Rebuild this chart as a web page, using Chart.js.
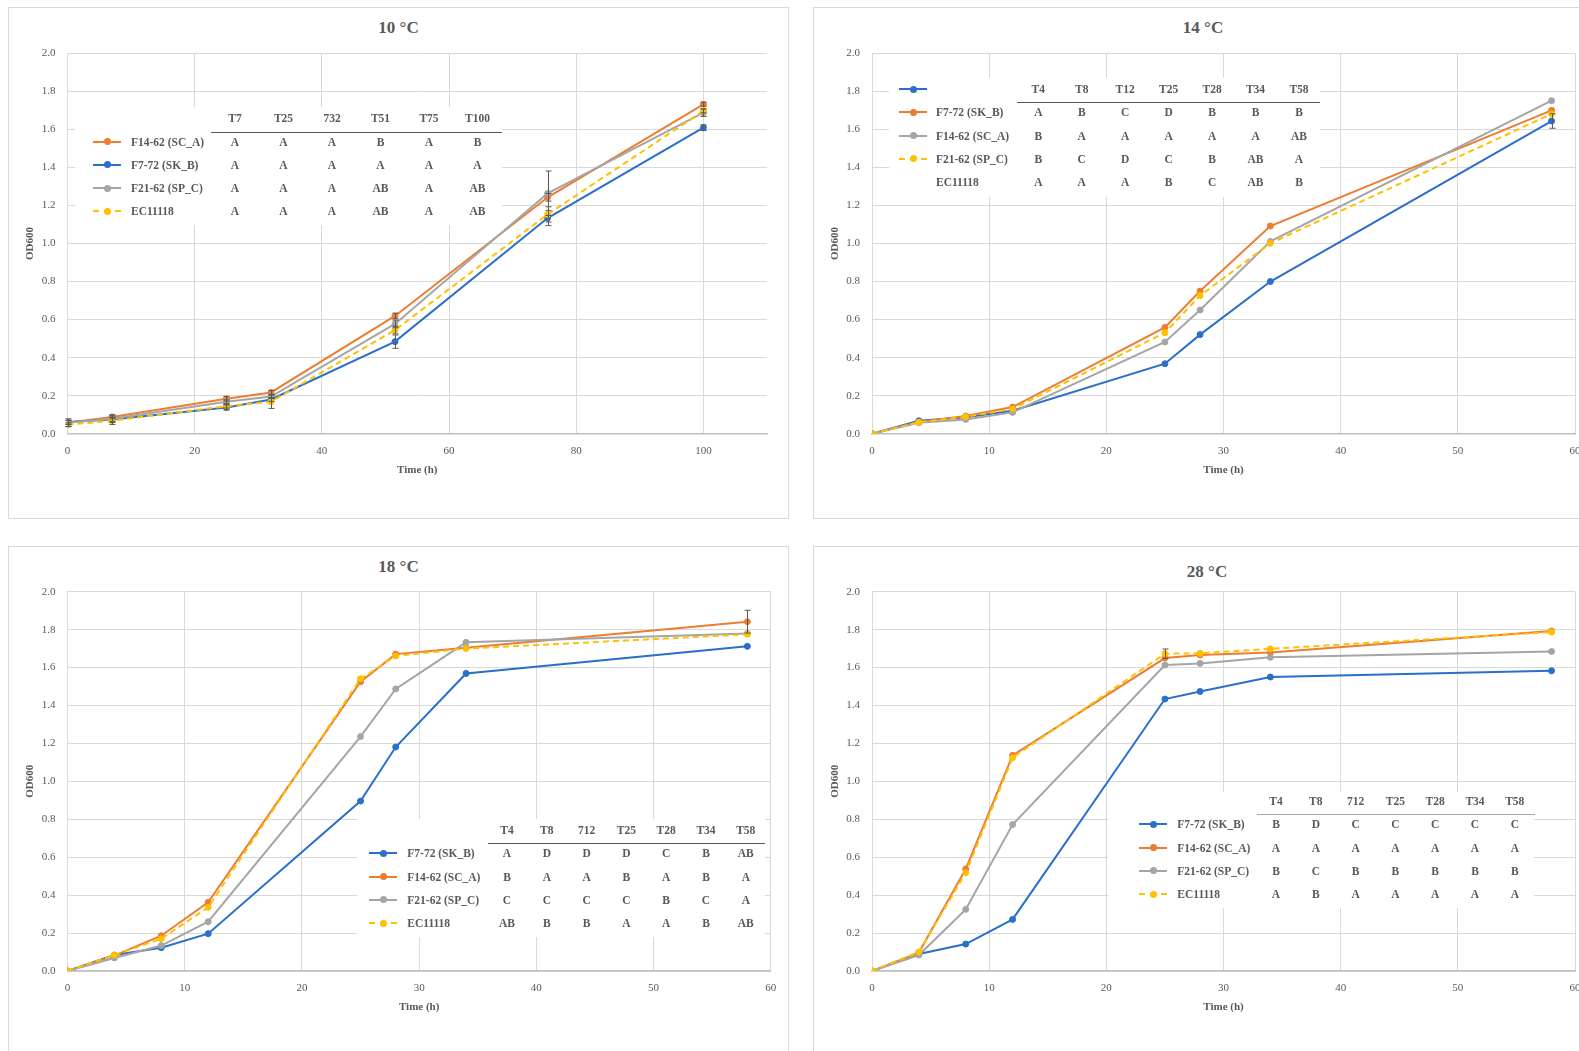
<!DOCTYPE html>
<html>
<head>
<meta charset="utf-8">
<title>Growth curves at 10, 14, 18 and 28 °C</title>
<script src="https://cdn.jsdelivr.net/npm/chart.js@4.4.1/dist/chart.umd.min.js"></script>
<style>
  html, body { margin: 0; padding: 0; background: #fff; overflow: hidden; width: 1579px; height: 1051px; position: relative; }
  .frame { position: absolute; border: 1px solid #d9d9d9; box-sizing: border-box; }
  canvas { position: absolute; }
  .tbl { position: absolute; background: #fff; }
  .cell { position: absolute; white-space: nowrap; font-family: "Liberation Serif", serif; font-weight: bold;
          font-size: 11.5px; color: #595959; line-height: 14px; height: 14px; }
  .ptitle { position: absolute; width: 200px; text-align: center; white-space: nowrap; font-family: "Liberation Serif", serif;
            font-weight: bold; font-size: 17px; line-height: 20px; height: 20px; color: #595959; }
  .rule { position: absolute; height: 0; }
  .swatch { position: absolute; height: 0; }
  .dot { position: absolute; width: 7px; height: 7px; border-radius: 50%; }
</style>
</head>
<body>
<script>
// ---- sampling times (h) ----
const time10 = [0, 7, 25, 32, 51.5, 75.5, 100];
const time14 = [0, 4, 8, 12, 25, 28, 34, 58];
const time18 = [0, 4, 8, 12, 25, 28, 34, 58];
const time28 = [0, 4, 8, 12, 25, 28, 34, 58];

// ---- OD600, 10 °C ----
const sc_a_10 = [0.058, 0.088, 0.184, 0.217, 0.619, 1.243, 1.732];
const sk_b_10 = [0.061, 0.075, 0.138, 0.180, 0.484, 1.134, 1.609];
const sp_c_10 = [0.058, 0.079, 0.168, 0.195, 0.577, 1.264, 1.688];
const ec_10   = [0.047, 0.068, 0.145, 0.168, 0.545, 1.153, 1.697];
const sc_a_10_sd = [0.010, 0.010, 0.012, 0.010, 0.015, 0.020, 0.010];
const sk_b_10_sd = [0.010, 0.010, 0.013, 0.010, 0.035, 0.040, 0.015];
const sp_c_10_sd = [0.020, 0.020, 0.010, 0.010, 0.020, 0.117, 0.020];
const ec_10_sd   = [0.010, 0.020, 0.010, 0.035, 0.020, 0.040, 0.010];

// ---- OD600, 14 °C ----
const sk_b_14 = [0, 0.068, 0.086, 0.121, 0.368, 0.521, 0.800, 1.644];
const sc_a_14 = [0, 0.061, 0.093, 0.140, 0.559, 0.750, 1.092, 1.700];
const sp_c_14 = [0, 0.058, 0.075, 0.112, 0.482, 0.650, 1.011, 1.751];
const ec_14   = [0, 0.060, 0.089, 0.130, 0.531, 0.726, 1.001, 1.681];
const sk_b_14_sd = [0, 0, 0, 0, 0, 0, 0, 0.038];

// ---- OD600, 18 °C ----
const sk_b_18 = [0, 0.084, 0.123, 0.197, 0.896, 1.181, 1.569, 1.712];
const sc_a_18 = [0, 0.081, 0.186, 0.362, 1.525, 1.671, 1.705, 1.842];
const sp_c_18 = [0, 0.069, 0.134, 0.260, 1.236, 1.487, 1.733, 1.780];
const ec_18   = [0, 0.084, 0.170, 0.336, 1.541, 1.661, 1.700, 1.775];
const sc_a_18_sd = [0, 0, 0, 0, 0, 0, 0, 0.060];

// ---- OD600, 28 °C ----
const sk_b_28 = [0, 0.090, 0.142, 0.272, 1.434, 1.474, 1.550, 1.583];
const sc_a_28 = [0, 0.097, 0.538, 1.137, 1.650, 1.666, 1.680, 1.793];
const sp_c_28 = [0, 0.084, 0.325, 0.772, 1.613, 1.622, 1.654, 1.685];
const ec_28   = [0, 0.100, 0.518, 1.125, 1.673, 1.675, 1.699, 1.787];
const ec_28_sd = [0, 0, 0, 0, 0.025, 0, 0, 0];

// ---- axis ticks ----
const yTicks = [0, 0.2, 0.4, 0.6, 0.8, 1.0, 1.2, 1.4, 1.6, 1.8, 2.0];
const xTicks10 = [0, 20, 40, 60, 80, 100];
const xTicks60 = [0, 10, 20, 30, 40, 50, 60];

// ---- significance letters ----
const head10 = ['T7', 'T25', '732', 'T51', 'T75', 'T100'];
const rows10 = ['F14-62 (SC_A)', 'F7-72 (SK_B)', 'F21-62 (SP_C)', 'EC11118'];
const letters10 = [
  ['A', 'A', 'A', 'B', 'A', 'B'],
  ['A', 'A', 'A', 'A', 'A', 'A'],
  ['A', 'A', 'A', 'AB', 'A', 'AB'],
  ['A', 'A', 'A', 'AB', 'A', 'AB']
];
const head14 = ['T4', 'T8', 'T12', 'T25', 'T28', 'T34', 'T58'];
const rows14 = ['F7-72 (SK_B)', 'F14-62 (SC_A)', 'F21-62 (SP_C)', 'EC11118'];
const letters14 = [
  ['A', 'B', 'C', 'D', 'B', 'B', 'B'],
  ['B', 'A', 'A', 'A', 'A', 'A', 'AB'],
  ['B', 'C', 'D', 'C', 'B', 'AB', 'A'],
  ['A', 'A', 'A', 'B', 'C', 'AB', 'B']
];
const head18 = ['T4', 'T8', '712', 'T25', 'T28', 'T34', 'T58'];
const rows18 = ['F7-72 (SK_B)', 'F14-62 (SC_A)', 'F21-62 (SP_C)', 'EC11118'];
const letters18 = [
  ['A', 'D', 'D', 'D', 'C', 'B', 'AB'],
  ['B', 'A', 'A', 'B', 'A', 'B', 'A'],
  ['C', 'C', 'C', 'C', 'B', 'C', 'A'],
  ['AB', 'B', 'B', 'A', 'A', 'B', 'AB']
];
const head28 = ['T4', 'T8', '712', 'T25', 'T28', 'T34', 'T58'];
const rows28 = ['F7-72 (SK_B)', 'F14-62 (SC_A)', 'F21-62 (SP_C)', 'EC11118'];
const letters28 = [
  ['B', 'D', 'C', 'C', 'C', 'C', 'C'],
  ['A', 'A', 'A', 'A', 'A', 'A', 'A'],
  ['B', 'C', 'B', 'B', 'B', 'B', 'B'],
  ['A', 'B', 'A', 'A', 'A', 'A', 'A']
];

// ---- series styling ----
const STRAIN = {
  sk_b: { label: 'F7-72 (SK_B)',  color: '#2a6fc9', dash: [] },
  sc_a: { label: 'F14-62 (SC_A)', color: '#ed7d31', dash: [] },
  sp_c: { label: 'F21-62 (SP_C)', color: '#a5a5a5', dash: [] },
  ec:   { label: 'EC11118',       color: '#ffc000', dash: [6, 4] }
};
const FONT = '"Liberation Serif", serif';
const TXT = '#595959';
const GRID = '#d9d9d9';

// Each panel: its frame, title centre, canvas box, plot-area edges inside the canvas,
// the series drawn (bottom to top) and the letter table laid over it.
const panels = [
  {
    title: '10 °C', titleAt: [398.5, 28.3], frame: [8, 7, 781, 512], canvas: [9, 7, 780, 511],
    plot: { l: 58.5, t: 46.3, r: 758, b: 426.7 }, yTitleX: 21.2, tickGap: 17, xTitleGap: 36,
    time: time10, xMax: 110, xTicks: xTicks10,
    series: [['sc_a', sc_a_10, sc_a_10_sd], ['sk_b', sk_b_10, sk_b_10_sd], ['sp_c', sp_c_10, sp_c_10_sd], ['ec', ec_10, ec_10_sd]],
    table: { head: head10, rows: rows10, letters: letters10, keys: ['sc_a', 'sk_b', 'sp_c', 'ec'], keyShift: 0,
      box: [75, 107, 502, 225], headY: 117.7, rowY: 141.7, step: 23.2, ruleY: 131.7, rule: [211, 502], ruleColor: '#595959',
      sw: [93, 121], labelX: 131, col0: 235, colStep: 48.5 }
  },
  {
    title: '14 °C', titleAt: [1203, 28.3], frame: [813, 7, 800, 512], canvas: [813, 7, 780, 511],
    plot: { l: 59, t: 46.3, r: 762, b: 426.7 }, yTitleX: 21.8, tickGap: 17, xTitleGap: 36,
    time: time14, xMax: 60, xTicks: xTicks60,
    series: [['sk_b', sk_b_14, sk_b_14_sd], ['sc_a', sc_a_14, null], ['sp_c', sp_c_14, null], ['ec', ec_14, null]],
    table: { head: head14, rows: rows14, letters: letters14, keys: ['sk_b', 'sc_a', 'sp_c', 'ec'], keyShift: -1,
      box: [889, 78, 1320, 197], headY: 89, rowY: 112.3, step: 23.3, ruleY: 102.3, rule: [1017, 1320], ruleColor: '#595959',
      sw: [899, 927], labelX: 936, col0: 1038.3, colStep: 43.45 }
  },
  {
    title: '18 °C', titleAt: [398.5, 566.7], frame: [8, 546, 781, 520], canvas: [9, 546, 780, 511],
    plot: { l: 58.5, t: 45.7, r: 761.8, b: 425 }, yTitleX: 21.2, tickGap: 16.7, xTitleGap: 36.5,
    time: time18, xMax: 60, xTicks: xTicks60,
    series: [['sk_b', sk_b_18, null], ['sc_a', sc_a_18, sc_a_18_sd], ['sp_c', sp_c_18, null], ['ec', ec_18, null]],
    table: { head: head18, rows: rows18, letters: letters18, keys: ['sk_b', 'sc_a', 'sp_c', 'ec'], keyShift: 0,
      box: [357, 819, 765, 937], headY: 830, rowY: 853.3, step: 23.3, ruleY: 843.3, rule: [487.5, 765], ruleColor: '#595959',
      sw: [369, 397], labelX: 407.3, col0: 507, colStep: 39.8 }
  },
  {
    title: '28 °C', titleAt: [1207, 571.7], frame: [813, 546, 800, 520], canvas: [813, 546, 788, 511],
    plot: { l: 59, t: 45.7, r: 762, b: 425 }, yTitleX: 21.8, tickGap: 16.7, xTitleGap: 36.5,
    time: time28, xMax: 60, xTicks: xTicks60,
    series: [['sk_b', sk_b_28, null], ['sc_a', sc_a_28, null], ['sp_c', sp_c_28, null], ['ec', ec_28, ec_28_sd]],
    table: { head: head28, rows: rows28, letters: letters28, keys: ['sk_b', 'sc_a', 'sp_c', 'ec'], keyShift: 0,
      box: [1108, 792, 1534, 908], headY: 801, rowY: 824.3, step: 23.3, ruleY: 814.3, rule: [1257, 1535], ruleColor: '#a6a6a6',
      sw: [1139, 1167], labelX: 1177.3, col0: 1276, colStep: 39.8 }
  }
];

// Vertical error bars (± SD) drawn through the chart's own scales.
const errorBars = {
  id: 'errorBars',
  afterDatasetsDraw(chart) {
    const { ctx, scales: { x, y } } = chart;
    ctx.save();
    ctx.strokeStyle = '#595959';
    ctx.lineWidth = 1;
    chart.data.datasets.forEach(ds => {
      if (!ds.sd) return;
      ds.data.forEach((p, j) => {
        const e = ds.sd[j];
        if (!e) return;
        const px = Math.round(x.getPixelForValue(p.x)) + 0.5;
        const top = y.getPixelForValue(p.y + e);
        const bot = y.getPixelForValue(p.y - e);
        ctx.beginPath();
        ctx.moveTo(px, top); ctx.lineTo(px, bot);
        ctx.moveTo(px - 3, top); ctx.lineTo(px + 3, top);
        ctx.moveTo(px - 3, bot); ctx.lineTo(px + 3, bot);
        ctx.stroke();
      });
    });
    ctx.restore();
  }
};

function addDiv(cls, css, text) {
  const d = document.createElement('div');
  d.className = cls;
  Object.assign(d.style, css);
  if (text !== undefined) d.textContent = text;
  document.body.appendChild(d);
  return d;
}

function drawSwatch(key, x0, x1, yc) {
  const s = STRAIN[key];
  addDiv('swatch', {
    left: x0 + 'px', top: (yc - 1) + 'px', width: (x1 - x0) + 'px',
    borderTop: '2px ' + (s.dash.length ? 'dashed ' : 'solid ') + s.color
  });
  addDiv('dot', { left: ((x0 + x1) / 2 - 3.5) + 'px', top: (yc - 3.5) + 'px', background: s.color });
}

function buildTable(t) {
  addDiv('tbl', { left: t.box[0] + 'px', top: t.box[1] + 'px', width: (t.box[2] - t.box[0]) + 'px', height: (t.box[3] - t.box[1]) + 'px' });
  const center = (x, y, txt) => addDiv('cell', { left: (x - 30) + 'px', top: (y - 7) + 'px', width: '60px', textAlign: 'center' }, txt);
  t.head.forEach((h, k) => center(t.col0 + k * t.colStep, t.headY, h));
  addDiv('rule', { left: t.rule[0] + 'px', top: t.ruleY + 'px', width: (t.rule[1] - t.rule[0]) + 'px', borderTop: '1.5px solid ' + t.ruleColor });
  t.rows.forEach((name, r) => {
    const yc = t.rowY + r * t.step;
    addDiv('cell', { left: t.labelX + 'px', top: (yc - 7) + 'px' }, name);
    t.letters[r].forEach((L, k) => center(t.col0 + k * t.colStep, yc, L));
  });
  t.keys.forEach((key, r) => drawSwatch(key, t.sw[0], t.sw[1], t.rowY + (r + t.keyShift) * t.step));
}

function buildPanel(p) {
  const [fx, fy, fw, fh] = p.frame;
  addDiv('frame', { left: fx + 'px', top: fy + 'px', width: fw + 'px', height: fh + 'px' });
  addDiv('ptitle', { left: (p.titleAt[0] - 100) + 'px', top: (p.titleAt[1] - 10) + 'px' }, p.title);
  const [cx, cy, cw, ch] = p.canvas;
  const cv = document.createElement('canvas');
  cv.width = cw; cv.height = ch;
  cv.style.left = cx + 'px'; cv.style.top = cy + 'px';
  cv.style.width = cw + 'px'; cv.style.height = ch + 'px';
  document.body.appendChild(cv);

  const n = p.series.length;
  const datasets = p.series.map(([key, vals, sd], i) => {
    const s = STRAIN[key];
    return {
      label: s.label,
      data: p.time.map((t, j) => ({ x: t, y: vals[j] })),
      sd: sd,
      borderColor: s.color,
      backgroundColor: s.color,
      pointBackgroundColor: s.color,
      pointBorderColor: s.color,
      borderWidth: 2,
      borderDash: s.dash,
      pointRadius: 3,
      pointBorderWidth: 1,
      tension: 0,
      order: n - i
    };
  });

  const tickLH = 11 * 1.2;
  const xAxisH = 44;
  new Chart(cv, {
    type: 'line',
    data: { datasets },
    plugins: [errorBars],
    options: {
      responsive: false,
      animation: false,
      devicePixelRatio: 1,
      layout: { padding: { left: 0, top: p.plot.t, right: cw - p.plot.r, bottom: ch - p.plot.b - xAxisH } },
      plugins: {
        legend: { display: false },
        tooltip: { enabled: false },
        title: { display: false }
      },
      scales: {
        x: {
          type: 'linear', min: 0, max: p.xMax,
          afterFit: s => { s.height = xAxisH; },
          afterBuildTicks: s => { s.ticks = p.xTicks.map(v => ({ value: v })); },
          ticks: { color: TXT, font: { family: FONT, size: 11 }, padding: p.tickGap - tickLH / 2, maxRotation: 0, autoSkip: false },
          grid: { color: GRID, lineWidth: 1, drawTicks: false },
          border: { color: '#bfbfbf', width: 1.5 },
          title: { display: true, text: 'Time (h)', color: TXT, font: { family: FONT, size: 11, weight: 'bold', lineHeight: 1.2 },
                   padding: { top: 0, bottom: xAxisH - p.xTitleGap - tickLH / 2 } }
        },
        y: {
          type: 'linear', min: 0, max: 2,
          afterFit: s => { s.width = p.plot.l; },
          afterBuildTicks: s => { s.ticks = yTicks.map(v => ({ value: v })); },
          ticks: { color: TXT, font: { family: FONT, size: 11 }, padding: 12, callback: v => Number(v).toFixed(1) },
          grid: { color: GRID, lineWidth: 1, drawTicks: false },
          border: { color: GRID, width: 1 },
          title: { display: true, text: 'OD600', color: TXT, font: { family: FONT, size: 11, weight: 'bold', lineHeight: 1.2 },
                   padding: { top: p.yTitleX - tickLH / 2, bottom: 0 } }
        }
      }
    }
  });
  buildTable(p.table);
}

panels.forEach(buildPanel);
</script>
</body>
</html>
